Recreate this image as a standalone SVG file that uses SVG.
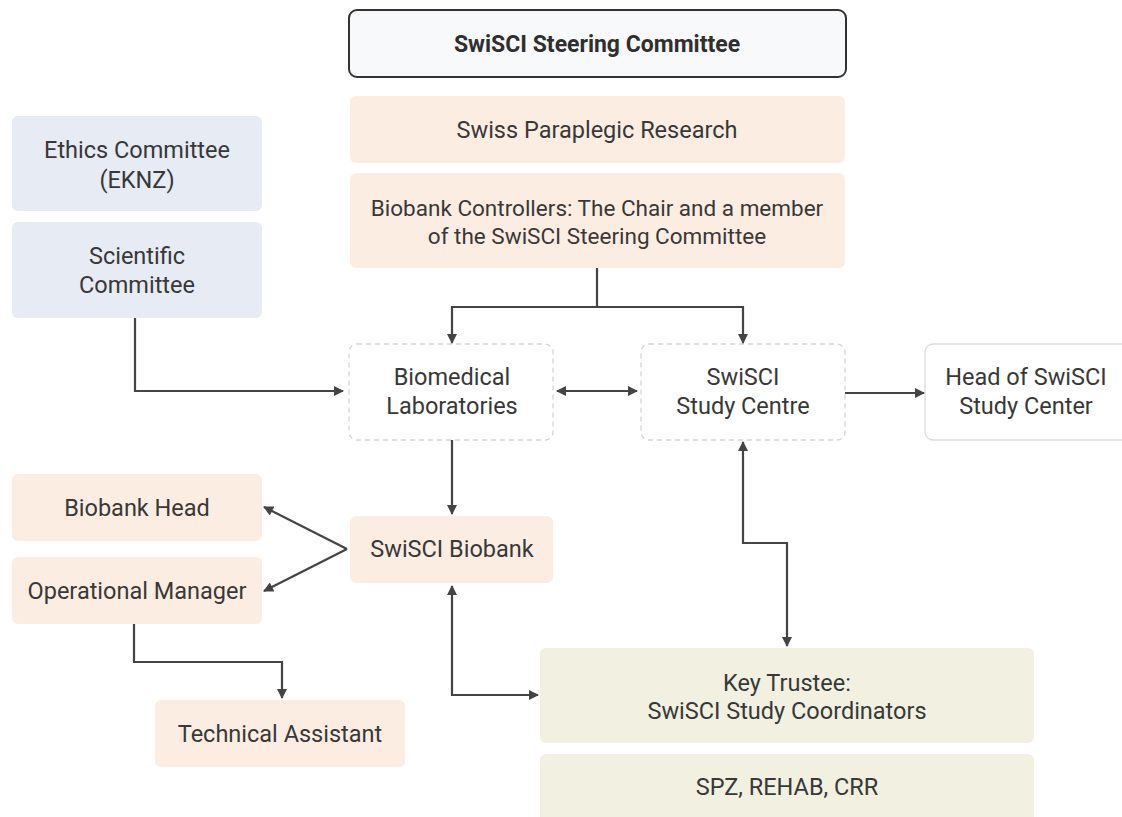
<svg xmlns="http://www.w3.org/2000/svg" width="1122" height="817" viewBox="0 0 1122 817">
<style>
text{font-family:Roboto,"Liberation Sans",sans-serif;font-size:23.5px;fill:#383838;text-anchor:middle}
.b{font-weight:bold;font-size:23px;fill:#2f2f2f}
.s{font-size:22.5px}
.peach{fill:#fcede2}
.blue{fill:#e6ebf4}
.green{fill:#f1f0e1}
.dash{fill:#fff;stroke:#d4d4d4;stroke-width:1.3;stroke-dasharray:5 4}
.plain{fill:#fff;stroke:#dcdcdc;stroke-width:1.3}
.c path{fill:none;stroke:#444;stroke-width:2.2}
</style>
<defs>
<marker id="a" viewBox="0 0 10 10" refX="9" refY="5" markerWidth="11" markerHeight="10" orient="auto-start-reverse" markerUnits="userSpaceOnUse">
<path d="M0,0 L10,5 L0,10 z" fill="#444"/>
</marker>
</defs>
<rect width="1122" height="817" fill="#fff"/>
<g id="steering"><rect x="349" y="10" width="497" height="67" rx="8" fill="#f8f9fa" stroke="#333" stroke-width="2"/><text class="b" x="597" y="52">SwiSCI Steering Committee</text></g>
<g id="spr"><rect class="peach" x="350" y="96" width="495" height="67" rx="6"/><text x="597" y="138">Swiss Paraplegic Research</text></g>
<g id="controllers"><rect class="peach" x="350" y="173" width="495" height="95" rx="6"/><text class="s" x="597" y="216">Biobank Controllers: The Chair and a member</text><text class="s" x="597" y="244">of the SwiSCI Steering Committee</text></g>
<g id="ethics"><rect class="blue" x="12" y="116" width="250" height="95" rx="6"/><text x="137" y="158">Ethics Committee</text><text x="137" y="188">(EKNZ)</text></g>
<g id="scientific"><rect class="blue" x="12" y="222" width="250" height="96" rx="6"/><text x="137" y="264">Scientific</text><text x="137" y="293">Committee</text></g>
<g id="biomedical"><rect class="dash" x="349" y="344" width="204" height="96" rx="8"/><text x="452" y="385">Biomedical</text><text x="452" y="414">Laboratories</text></g>
<g id="studycentre"><rect class="dash" x="641" y="344" width="204" height="96" rx="8"/><text x="743" y="385">SwiSCI</text><text x="743" y="414">Study Centre</text></g>
<g id="head"><rect class="plain" x="925" y="344" width="210" height="96" rx="8"/><text x="1026" y="385">Head of SwiSCI</text><text x="1026" y="414">Study Center</text></g>
<g id="biobankhead"><rect class="peach" x="12" y="474" width="250" height="67" rx="6"/><text x="137" y="516">Biobank Head</text></g>
<g id="opmanager"><rect class="peach" x="12" y="557" width="250" height="67" rx="6"/><text x="137" y="599">Operational Manager</text></g>
<g id="biobank"><rect class="peach" x="350" y="516" width="203" height="67" rx="6"/><text x="452" y="557">SwiSCI Biobank</text></g>
<g id="techassistant"><rect class="peach" x="155" y="700" width="250" height="67" rx="6"/><text x="280" y="742">Technical Assistant</text></g>
<g id="keytrustee"><rect class="green" x="540" y="648" width="494" height="95" rx="6"/><text x="787" y="691">Key Trustee:</text><text x="787" y="719">SwiSCI Study Coordinators</text></g>
<g id="spz"><rect class="green" x="540" y="754" width="494" height="80" rx="6"/><text x="787" y="795">SPZ, REHAB, CRR</text></g>
<g class="c" id="connectors">
<path d="M597,268 V307"/>
<path d="M597,307 H452 V343" marker-end="url(#a)"/>
<path d="M597,307 H743 V343" marker-end="url(#a)"/>
<path d="M135,318 V391 H343" marker-end="url(#a)"/>
<path d="M557,391 H637" marker-start="url(#a)" marker-end="url(#a)"/>
<path d="M845,393 H924" marker-end="url(#a)"/>
<path d="M452,440 V514" marker-end="url(#a)"/>
<path d="M347,549 L264,507" marker-end="url(#a)"/>
<path d="M347,549 L264,591" marker-end="url(#a)"/>
<path d="M134,624 V662 H282 V698" marker-end="url(#a)"/>
<path d="M452,586 V695 H538" marker-start="url(#a)" marker-end="url(#a)"/>
<path d="M743,442 V543 H787 V646" marker-start="url(#a)" marker-end="url(#a)"/>
</g>
</svg>
